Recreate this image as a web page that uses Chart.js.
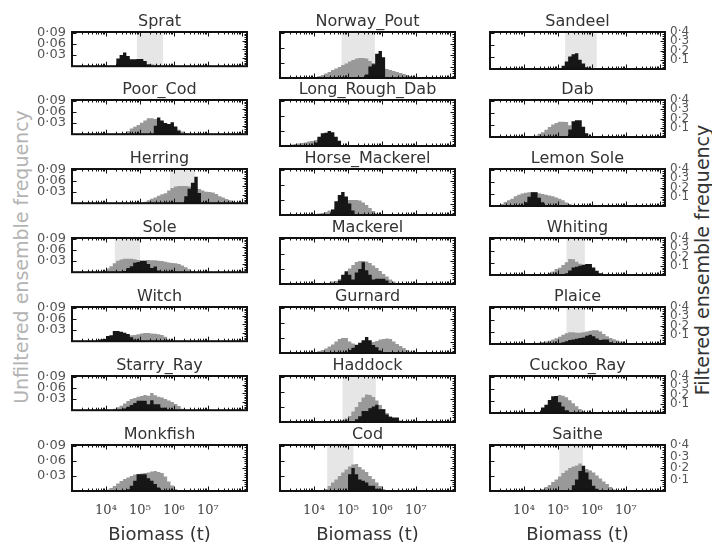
<!DOCTYPE html>
<html><head><meta charset="utf-8">
<script src="https://cdn.jsdelivr.net/npm/chart.js@4.4.1/dist/chart.umd.min.js"></script>
<style>
html,body{margin:0;padding:0;background:#fff;}
#wrap{position:relative;width:712px;height:546px;overflow:hidden;background:#fff;}
#wrap canvas{position:absolute;}
.vlab{position:absolute;white-space:nowrap;font-family:'DejaVu Sans';font-size:19px;transform:translate(-50%,-50%) rotate(-90deg);}
</style></head><body><div id="wrap">
<div class="vlab" style="left:21px;top:257px;color:#b3b3b3">Unfiltered ensemble frequency</div>
<div class="vlab" style="left:702px;top:260px;color:#333">Filtered ensemble frequency</div>
</div>
<script>
// ---------- DATA ----------
const species = ['Sprat','Norway_Pout','Sandeel','Poor_Cod','Long_Rough_Dab','Dab','Herring','Horse_Mackerel','Lemon Sole','Sole','Mackerel','Whiting','Witch','Gurnard','Plaice','Starry_Ray','Haddock','Cuckoo_Ray','Monkfish','Cod','Saithe'];
// observed biomass range (log10 t), null = none
const obsLowLog10  = [4.91,4.81,5.21,null,null,null,5.88,null,null,4.26,null,5.25,null,null,5.25,null,4.84,null,null,4.39,5.04];
const obsHighLog10 = [5.68,5.79,6.14,null,null,null,6.62,null,null,5.00,null,5.79,null,null,5.79,null,5.82,null,null,5.16,5.73];
const BIN = 0.1; // histogram bin width in log10(t)
// unfiltered ensemble (left axis)
const unfilteredStart = [4.3,4.0,5.0,4.5,3.2,4.3,5.1,4.0,3.2,3.9,4.4,4.6,3.7,4.0,4.3,4.2,4.7,4.4,4.0,4.3,4.5];
const unfilteredFreq = [
 [0.002,0.003,0.004,0.004,0.004,0.004,0.005,0.005,0.006,0.006,0.005,0.004,0.003],
 [0.002,0.004,0.006,0.009,0.012,0.016,0.019,0.022,0.026,0.029,0.033,0.036,0.039,0.040,0.040,0.039,0.034,0.030,0.024,0.021,0.019,0.018,0.016,0.014,0.012,0.010,0.008,0.006,0.004,0.002],
 [0.002,0.003,0.004,0.005,0.005,0.005,0.004,0.004,0.003,0.002],
 [0.003,0.008,0.015,0.020,0.025,0.031,0.037,0.043,0.043,0.041,0.038,0.034,0.030,0.027,0.023,0.019,0.012,0.007,0.003],
 [0.002,0.003,0.004,0.005,0.006,0.007,0.009,0.010,0.012,0.013,0.013,0.012,0.010,0.008,0.006,0.004],
 [0.003,0.008,0.012,0.018,0.025,0.031,0.035,0.038,0.038,0.037,0.029,0.016,0.010,0.006,0.003],
 [0.004,0.008,0.012,0.015,0.020,0.024,0.027,0.034,0.041,0.045,0.046,0.046,0.046,0.045,0.044,0.042,0.038,0.034,0.031,0.030,0.029,0.025,0.019,0.015,0.011,0.008,0.005,0.002],
 [0.002,0.003,0.004,0.006,0.009,0.012,0.016,0.019,0.023,0.027,0.030,0.030,0.030,0.029,0.025,0.020,0.014,0.008,0.003],
 [0.002,0.005,0.010,0.014,0.018,0.024,0.028,0.031,0.033,0.034,0.035,0.034,0.032,0.030,0.028,0.026,0.024,0.021,0.018,0.014,0.009,0.005,0.002],
 [0.004,0.010,0.016,0.024,0.031,0.034,0.036,0.036,0.036,0.035,0.033,0.032,0.032,0.033,0.032,0.032,0.031,0.030,0.028,0.026,0.025,0.024,0.022,0.018,0.013,0.008,0.003],
 [0.002,0.005,0.006,0.010,0.016,0.022,0.031,0.038,0.044,0.046,0.046,0.045,0.042,0.037,0.032,0.026,0.020,0.015,0.009,0.005,0.002],
 [0.002,0.005,0.009,0.015,0.018,0.025,0.032,0.040,0.039,0.033,0.028,0.024,0.019,0.014,0.009,0.005,0.002],
 [0.002,0.004,0.006,0.008,0.010,0.012,0.013,0.014,0.015,0.016,0.016,0.017,0.019,0.021,0.022,0.022,0.021,0.020,0.019,0.017,0.012,0.005],
 [0.002,0.004,0.006,0.009,0.013,0.017,0.023,0.028,0.030,0.030,0.023,0.019,0.017,0.017,0.018,0.019,0.020,0.022,0.024,0.027,0.028,0.029,0.028,0.023,0.018,0.014,0.010,0.006,0.003],
 [0.002,0.003,0.005,0.006,0.008,0.011,0.014,0.018,0.023,0.027,0.029,0.029,0.028,0.028,0.029,0.031,0.033,0.034,0.034,0.031,0.025,0.019,0.015,0.012,0.009,0.006,0.003,0.001],
 [0.004,0.008,0.012,0.018,0.025,0.030,0.033,0.036,0.038,0.041,0.039,0.046,0.040,0.036,0.034,0.030,0.026,0.022,0.017,0.011,0.004],
 [0.002,0.004,0.007,0.012,0.021,0.030,0.040,0.049,0.055,0.054,0.050,0.043,0.034,0.026,0.018,0.011,0.005,0.002],
 [0.002,0.005,0.010,0.022,0.033,0.042,0.045,0.043,0.039,0.032,0.024,0.017,0.010,0.005,0.002],
 [0.003,0.006,0.010,0.015,0.020,0.024,0.027,0.030,0.033,0.034,0.035,0.036,0.037,0.039,0.040,0.038,0.036,0.029,0.019,0.011,0.004],
 [0.004,0.010,0.017,0.023,0.030,0.037,0.043,0.049,0.053,0.054,0.048,0.043,0.038,0.030,0.024,0.017,0.010,0.004],
 [0.004,0.008,0.012,0.018,0.023,0.029,0.036,0.041,0.046,0.049,0.051,0.055,0.050,0.044,0.041,0.037,0.031,0.025,0.019,0.014,0.008,0.003]
];
// filtered ensemble (right axis)
const filteredStart = [4.3,5.5,5.1,5.4,4.0,5.3,6.3,4.5,4.0,4.5,4.7,5.2,3.8,4.9,5.0,4.5,5.2,4.5,4.6,5.0,5.4];
const filteredFreq = [
 [0.09,0.13,0.16,0.12,0.08,0.08,0.085,0.085,0.06,0.02],
 [0.03,0.10,0.12,0.21,0.235,0.18],
 [0.035,0.08,0.135,0.16,0.17,0.10,0.06,0.02],
 [0.10,0.195,0.16,0.13,0.12,0.14,0.09,0.04],
 [0.03,0.08,0.11,0.115,0.13,0.12,0.08,0.045],
 [0.08,0.17,0.18,0.18,0.11,0.04],
 [0.08,0.17,0.24,0.31,0.12],
 [0.046,0.12,0.175,0.20,0.16,0.10,0.04],
 [0.04,0.10,0.15,0.15,0.09,0.04],
 [0.015,0.05,0.07,0.11,0.12,0.13,0.13,0.095,0.05,0.066,0.02],
 [0.03,0.08,0.11,0.08,0.04,0.10,0.13,0.19,0.12,0.08,0.04,0.045,0.045,0.045,0.03],
 [0.02,0.05,0.08,0.09,0.10,0.11,0.12,0.12,0.08,0.045,0.02],
 [0.02,0.026,0.06,0.07,0.12,0.12,0.11,0.10,0.085,0.045,0.02],
 [0.005,0.026,0.045,0.07,0.09,0.11,0.14,0.11,0.07,0.05,0.02],
 [0.01,0.02,0.03,0.043,0.05,0.057,0.065,0.07,0.09,0.10,0.085,0.06,0.043,0.05,0.05,0.02],
 [0.02,0.04,0.06,0.083,0.11,0.11,0.11,0.07,0.115,0.07,0.07,0.03,0.03],
 [0.025,0.05,0.095,0.095,0.12,0.135,0.15,0.11,0.11,0.065,0.045,0.04,0.04,0.01],
 [0.06,0.09,0.14,0.18,0.185,0.115,0.07,0.03],
 [0.015,0.045,0.09,0.145,0.145,0.145,0.11,0.09,0.06,0.03],
 [0.146,0.20,0.146,0.10,0.09,0.075,0.045,0.045,0.02,0.015],
 [0.05,0.10,0.175,0.22,0.16,0.10,0.045,0.02]
];
const xTickValues = [1e4,1e5,1e6,1e7];
const xTickLabels = ['10⁴','10⁵','10⁶','10⁷'];
const leftTickValues = [0.03,0.06,0.09];
const rightTickValues = [0.1,0.2,0.3,0.4];

// ---------- LAYOUT ----------
const colLeft = [72,280,490];
const rowTop = [32,100,169,238,307,376,445];
const PW = 175, PH = 46, AX = 45, TT = 20;
const XMIN = 1e3, XMAX = Math.pow(10,8.15);

Chart.defaults.font.family = 'DejaVu Sans';

function histPoints(start, vals){
  const pts = [{x:Math.pow(10,start), y:0}];
  vals.forEach((v,i)=>{
    pts.push({x:Math.pow(10,start+i*BIN), y:v});
    pts.push({x:Math.pow(10,start+(i+1)*BIN), y:v});
  });
  pts.push({x:Math.pow(10,start+vals.length*BIN), y:0});
  return pts;
}

const framePlugin = {
  id:'frame',
  beforeDatasetsDraw(chart, args, opts){
    const i = opts.idx;
    if (obsLowLog10[i] === null) return;
    const xs = chart.scales.x, ca = chart.chartArea, ctx = chart.ctx;
    const x1 = xs.getPixelForValue(Math.pow(10,obsLowLog10[i]));
    const x2 = xs.getPixelForValue(Math.pow(10,obsHighLog10[i]));
    ctx.save(); ctx.fillStyle = '#e6e6e6';
    ctx.fillRect(x1, ca.top, x2-x1, ca.bottom-ca.top); ctx.restore();
  },
  afterDatasetsDraw(chart){
    const xs = chart.scales.x, yl = chart.scales.yL, yr = chart.scales.yR;
    const {left,right,top,bottom} = chart.chartArea, ctx = chart.ctx;
    ctx.save(); ctx.strokeStyle = '#111'; ctx.lineWidth = 1;
    ctx.beginPath();
    for (let n=3;n<=8;n++) for (let k=1;k<=9;k++){
      const v = k*Math.pow(10,n);
      if (v < XMIN || v > XMAX) continue;
      const px = Math.round(xs.getPixelForValue(v))+0.5, L = k===1?4.5:2.5;
      ctx.moveTo(px,bottom); ctx.lineTo(px,bottom-L);
      ctx.moveTo(px,top); ctx.lineTo(px,top+L);
    }
    leftTickValues.forEach(v=>{ const py = Math.round(yl.getPixelForValue(v))+0.5; ctx.moveTo(left,py); ctx.lineTo(left+4.5,py); });
    for (let v=0.02; v<0.4; v+=0.02){ const py = Math.round(yr.getPixelForValue(v))+0.5; ctx.moveTo(right,py); ctx.lineTo(right-2.5,py); }
    rightTickValues.forEach(v=>{ const py = Math.round(yr.getPixelForValue(v))+0.5; ctx.moveTo(right,py); ctx.lineTo(right-4.5,py); });
    ctx.stroke();
    ctx.lineWidth = 2; ctx.strokeStyle = '#111';
    ctx.strokeRect(left, top, right-left, bottom-top);
    ctx.restore();
  }
};

const wrap = document.getElementById('wrap');
species.forEach((name, i)=>{
  const r = Math.floor(i/3), c = i%3;
  const isBottom = r === 6;
  const xh = isBottom ? 55 : 2;
  const cv = document.createElement('canvas');
  const W = PW + 2*AX, H = TT + PH + xh;
  cv.width = W; cv.height = H;
  cv.style.width = W+'px'; cv.style.height = H+'px';
  cv.style.left = (colLeft[c]-AX)+'px'; cv.style.top = (rowTop[r]-TT)+'px';
  wrap.appendChild(cv);
  new Chart(cv, {
    type:'line',
    data:{datasets:[
      {label:'filtered', data:histPoints(filteredStart[i], filteredFreq[i]), yAxisID:'yR', fill:'origin', backgroundColor:'#161616', borderWidth:0, pointRadius:0, tension:0},
      {label:'unfiltered', data:histPoints(unfilteredStart[i], unfilteredFreq[i]), yAxisID:'yL', fill:'origin', backgroundColor:'#999999', borderWidth:0, pointRadius:0, tension:0}
    ]},
    options:{
      animation:false, responsive:false, devicePixelRatio:1, events:[],
      layout:{padding:0},
      plugins:{
        legend:{display:false}, tooltip:{enabled:false},
        title:{display:true, text:name, color:'#333', font:{family:'DejaVu Sans', size:16, lineHeight:1, weight:'normal'}, padding:{top:2,bottom:2}},
        frame:{idx:i}
      },
      scales:{
        x:{type:'logarithmic', position:'bottom', min:XMIN, max:XMAX,
           grid:{display:false, drawTicks:false}, border:{display:false},
           ticks:{display:isBottom, color:'#444', font:{family:'DejaVu Serif', size:13}, padding:12, maxRotation:0, autoSkip:false,
                  callback:(v)=>{ const k = xTickValues.indexOf(v); return k>=0 ? xTickLabels[k] : ''; }},
           title:{display:isBottom, text:'Biomass (t)', color:'#333', font:{family:'DejaVu Sans', size:18}, padding:0},
           afterBuildTicks:(s)=>{ s.ticks = xTickValues.map(v=>({value:v})); },
           afterFit:(s)=>{ s.height = xh; }},
        yL:{position:'left', min:0, max:0.092,
           grid:{display:false, drawTicks:false}, border:{display:false},
           ticks:{display:c===0, color:'#555', font:{size:13}, padding:6, autoSkip:false, callback:(v)=>v.toFixed(2).replace('.','·')},
           afterBuildTicks:(s)=>{ s.ticks = leftTickValues.map(v=>({value:v})); },
           afterFit:(s)=>{ s.width = AX; }},
        yR:{position:'right', min:0, max:0.4,
           grid:{display:false, drawTicks:false}, border:{display:false},
           ticks:{display:c===2, color:'#555', font:{size:12, lineHeight:1}, padding:5, autoSkip:false, callback:(v)=>v.toFixed(1).replace('.','·')},
           afterBuildTicks:(s)=>{ s.ticks = rightTickValues.map(v=>({value:v})); },
           afterFit:(s)=>{ s.width = AX; }}
      }
    },
    plugins:[framePlugin]
  });
});
</script>
</body></html>
